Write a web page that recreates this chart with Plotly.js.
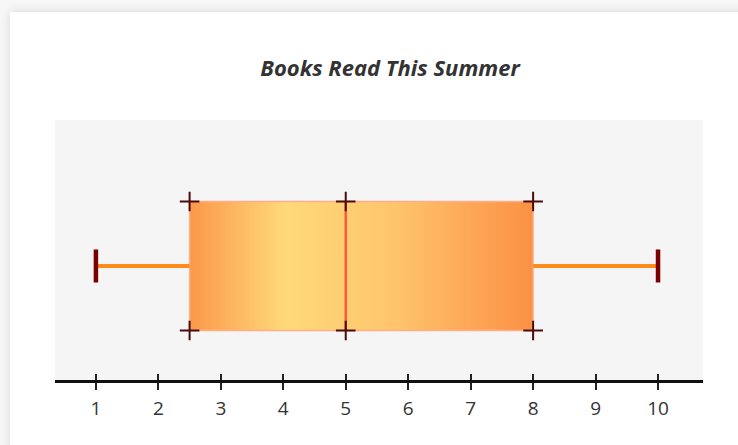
<!DOCTYPE html>
<html>
<head>
<meta charset="utf-8">
<script src="https://cdn.plot.ly/plotly-3.0.1.min.js"></script>
<style>
  html, body { margin:0; padding:0; background:#f7f7f7; width:738px; height:445px; overflow:hidden; }
  #card { position:absolute; left:10px; top:12px; width:760px; height:460px; background:#ffffff;
          box-shadow: 0 0 10px rgba(0,0,0,0.13); }
  #chart { position:absolute; left:0; top:0; width:738px; height:445px; }
</style>
</head>
<body>
<div id="card"></div>
<div id="chart"></div>
<script>
// Five-number summary of books read this summer
const statNames = ["min", "q1", "median", "q3", "max"];
const statValues = [1, 2.5, 5, 8, 10];
const tickValues = [1, 2, 3, 4, 5, 6, 7, 8, 9, 10];
const tickLabels = ["1", "2", "3", "4", "5", "6", "7", "8", "9", "10"];

const s = {};
statNames.forEach((n, i) => s[n] = statValues[i]);

const H = 0.5;    // half box height (y units)
const C = 0.128;  // half whisker-cap height

const traces = [
  {
    type: 'scatter', mode: 'lines',
    x: [s.q1, s.q3, s.q3, s.q1, s.q1],
    y: [-H, -H, H, H, -H],
    fill: 'toself',
    fillgradient: {
      type: 'horizontal',
      colorscale: [[0, '#fb984a'], [0.28, '#ffd979'], [0.6, '#ffc46c'], [1, '#fb9044']]
    },
    line: { color: '#ffae8a', width: 1.5 },
    hoverinfo: 'skip', showlegend: false
  },
  {
    type: 'scatter', mode: 'lines',
    x: [s.min, s.q1, null, s.q3, s.max],
    y: [0, 0, null, 0, 0],
    line: { color: '#ff8c1a', width: 4 },
    hoverinfo: 'skip', showlegend: false
  },
  {
    type: 'scatter', mode: 'lines',
    x: [s.median, s.median],
    y: [-H, H],
    line: { color: '#ff5a36', width: 2.5 },
    hoverinfo: 'skip', showlegend: false
  },
  {
    type: 'scatter', mode: 'lines',
    x: [s.min, s.min, null, s.max, s.max],
    y: [-C, C, null, -C, C],
    line: { color: '#7a0000', width: 4.5 },
    hoverinfo: 'skip', showlegend: false
  },
  {
    type: 'scatter', mode: 'markers',
    x: [s.q1, s.q1, s.median, s.median, s.q3, s.q3],
    y: [H, -H, H, -H, H, -H],
    marker: { symbol: 'cross-thin', size: 14, line: { color: '#4a0c0c', width: 2 } },
    hoverinfo: 'skip', showlegend: false
  },
  {
    type: 'scatter', mode: 'markers', x: [s.min], y: [0], xaxis: 'x2',
    marker: { opacity: 0 }, hoverinfo: 'skip', showlegend: false
  }
];

const xr = [0.345, 10.72];
const layout = {
  width: 738, height: 445,
  margin: { l: 55, r: 35, t: 120, b: 65 },
  paper_bgcolor: 'rgba(0,0,0,0)',
  plot_bgcolor: '#f5f5f5',
  title: {
    text: 'Books Read This Summer',
    x: 0.517, xref: 'paper', xanchor: 'center',
    y: 0.847, yref: 'container', yanchor: 'middle',
    font: { family: '"Open Sans", sans-serif', size: 22, color: '#333333', weight: 'bold', style: 'italic' }
  },
  xaxis: {
    range: xr, tickvals: tickValues, ticktext: tickLabels,
    showgrid: false, zeroline: false,
    showline: true, linecolor: '#111111', linewidth: 3,
    ticks: 'outside', ticklen: 7, tickwidth: 2, tickcolor: '#222222',
    ticklabelstandoff: 2,
    tickfont: { family: '"Open Sans", sans-serif', size: 19, color: '#333333' },
    fixedrange: true
  },
  xaxis2: {
    overlaying: 'x', anchor: 'y', side: 'bottom', range: xr,
    tickvals: tickValues, showticklabels: false,
    showgrid: false, zeroline: false, showline: false,
    ticks: 'inside', ticklen: 6, tickwidth: 2, tickcolor: '#222222'
  },
  yaxis: {
    range: [-0.884, 1.132], showgrid: false, zeroline: false,
    showticklabels: false, showline: false, ticks: '', fixedrange: true
  }
};

Plotly.newPlot('chart', traces, layout, { displayModeBar: false, staticPlot: true });
</script>
</body>
</html>
